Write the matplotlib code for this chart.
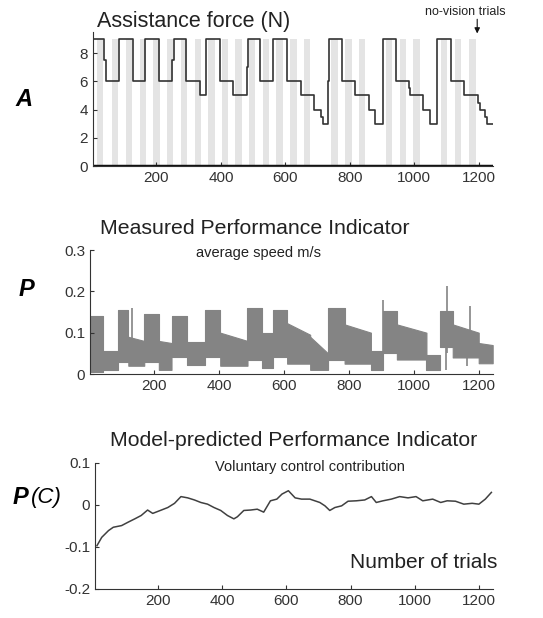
import matplotlib.pyplot as plt
import numpy as np

plt.rcParams['font.family'] = ['Liberation Sans', 'DejaVu Sans']

# panel A: assistance force schedule (trial where level starts, level)
force_start = [1, 38, 44, 83, 126, 165, 209, 248, 253, 291, 334, 354, 396, 437, 480, 485,
               522, 563, 606, 648, 689, 711, 718, 731, 735, 775, 816, 858, 878, 902,
               943, 982, 987, 1027, 1049, 1071, 1113, 1154, 1196, 1204, 1218, 1224, 1243]
force_level = [9, 7.5, 6, 9, 6, 9, 6, 7.5, 9, 6, 5, 9, 6, 5, 7, 9,
               6, 9, 6, 5, 4, 3.5, 3, 6, 9, 6, 5, 4, 3, 9,
               6, 5.5, 5, 4, 3, 9, 6, 5, 4.5, 4, 3.5, 3, 3]

# no-vision blocks (start trial, 20 trials each)
novision_start = [15, 62, 105, 148, 190, 232, 275, 318, 360, 402, 445, 487, 530, 572,
                  615, 657, 742, 785, 827, 912, 955, 997, 1082, 1125, 1170]
novision_len = 20

# panel P: measured speed, envelope of the trace per block
p_start = [3, 42, 88, 121, 170, 215, 254, 302, 358, 404, 488, 533, 567, 610,
           681, 736, 787, 868, 906, 948, 1039, 1080, 1120, 1200]
p_end = [42, 88, 121, 170, 215, 254, 302, 358, 404, 488, 533, 567, 610, 681,
         736, 787, 868, 906, 948, 1039, 1080, 1120, 1200, 1243]
p_hi_a = [0.14, 0.055, 0.155, 0.09, 0.145, 0.08, 0.14, 0.078, 0.155, 0.10, 0.16, 0.10,
          0.155, 0.123, 0.09, 0.16, 0.12, 0.055, 0.152, 0.12, 0.045, 0.152, 0.12, 0.075]
p_hi_b = [0.14, 0.055, 0.155, 0.08, 0.145, 0.075, 0.14, 0.078, 0.155, 0.08, 0.16, 0.10,
          0.155, 0.095, 0.05, 0.16, 0.10, 0.055, 0.152, 0.10, 0.045, 0.152, 0.10, 0.07]
p_lo = [0.006, 0.01, 0.03, 0.02, 0.03, 0.01, 0.04, 0.022, 0.04, 0.02, 0.035, 0.015,
        0.04, 0.025, 0.01, 0.035, 0.025, 0.01, 0.05, 0.035, 0.01, 0.065, 0.04, 0.026]
spike_x = [131, 390, 906, 1102, 1172]
spike_y = [0.16, 0.155, 0.178, 0.214, 0.165]
dip_x = [1098, 1165]
dip_y = [0.01, 0.02]

# panel P(C): voluntary control contribution
c_x = [9, 24, 45, 60, 86, 106, 127, 147, 167, 183, 210, 230, 251, 271, 292, 313, 333,
       354, 374, 395, 416, 426, 436, 447, 467, 488, 509, 529, 550, 570, 586, 606, 627,
       647, 673, 704, 720, 735, 751, 772, 792, 818, 844, 865, 880, 901, 927, 953, 979,
       1004, 1025, 1056, 1081, 1101, 1127, 1153, 1179, 1200, 1220, 1239]
c_y = [-0.097, -0.077, -0.061, -0.053, -0.049, -0.041, -0.033, -0.025, -0.012, -0.020,
       -0.012, -0.006, 0.004, 0.020, 0.017, 0.012, 0.006, 0.002, -0.006, -0.013,
       -0.025, -0.029, -0.033, -0.028, -0.013, -0.012, -0.010, -0.017, 0.010, 0.014,
       0.026, 0.034, 0.017, 0.014, 0.014, 0.006, -0.002, -0.013, -0.006, -0.002,
       0.009, 0.010, 0.012, 0.020, 0.006, 0.010, 0.014, 0.020, 0.017, 0.020,
       0.010, 0.014, 0.006, 0.010, 0.009, 0.002, 0.004, 0.002, 0.014, 0.030]

x_ticks = [200, 400, 600, 800, 1000, 1200]
XLIM = (3, 1244)
TICK_COLOR = '#333333'
TRACE = '#848484'

fig = plt.figure(figsize=(5.43, 6.18), dpi=100)


def style(ax):
    for s in ['top', 'right']:
        ax.spines[s].set_visible(False)
    for s in ['left', 'bottom']:
        ax.spines[s].set_color('#333333')
    ax.tick_params(direction='in', length=3, labelsize=11, colors=TICK_COLOR)
    ax.set_xlim(*XLIM)
    ax.set_xticks(x_ticks)
    ax.set_xticklabels([str(t) for t in x_ticks])


# A
axA = fig.add_axes([93 / 543, 1 - 166 / 618, 400 / 543, 134 / 618])
for s in novision_start:
    axA.fill_between([s, s + novision_len], 0, 9, color='#e4e4e4', lw=0)
axA.step(force_start, force_level, where='post', color='#333333', lw=1.2)
axA.plot(XLIM, [0, 0], color='#111111', lw=2.5, solid_capstyle='butt')
axA.set_ylim(0, 9.5)
axA.set_yticks([0, 2, 4, 6, 8])
axA.set_yticklabels(['0', '2', '4', '6', '8'])
style(axA)
fig.text(97 / 543, 1 - 22 / 618, 'Assistance force (N)', fontsize=15.5, va='center', color='#222222')
fig.text(425 / 543, 1 - 12 / 618, 'no-vision trials', fontsize=9, va='center', color='#222222')
axA.annotate('', xy=(1195, 9.2), xytext=(1195, 10.6), annotation_clip=False,
             arrowprops=dict(arrowstyle='-|>', color='#111111', lw=0.8, mutation_scale=8))
fig.text(24 / 543, 1 - 100 / 618, 'A', fontsize=17, fontweight='bold', fontstyle='italic',
         ha='center', va='center')

# P
axP = fig.add_axes([90 / 543, 1 - 374 / 618, 403 / 543, 124 / 618])
for x0, x1, ha, hb, lo in zip(p_start, p_end, p_hi_a, p_hi_b, p_lo):
    axP.fill_between([x0, x1], [lo, lo], [ha, hb], color=TRACE, lw=0.8)
axP.vlines(spike_x, 0.05, spike_y, color=TRACE, lw=1.2)
axP.vlines(dip_x, dip_y, 0.08, color=TRACE, lw=1.2)
axP.set_ylim(0, 0.3)
axP.set_yticks([0, 0.1, 0.2, 0.3])
axP.set_yticklabels(['0', '0.1', '0.2', '0.3'])
style(axP)
fig.text(255 / 543, 1 - 228 / 618, 'Measured Performance Indicator', fontsize=15.3,
         ha='center', va='center', color='#222222')
fig.text(258 / 543, 1 - 253 / 618, 'average speed m/s', fontsize=10.5,
         ha='center', va='center', color='#222222')
fig.text(26 / 543, 1 - 290 / 618, 'P', fontsize=17, fontweight='bold', fontstyle='italic',
         ha='center', va='center')

# P(C)
axC = fig.add_axes([95 / 543, 1 - 589 / 618, 398 / 543, 126 / 618])
axC.plot(c_x, c_y, color='#404040', lw=1.1)
axC.set_ylim(-0.2, 0.1)
axC.set_yticks([-0.2, -0.1, 0, 0.1])
axC.set_yticklabels(['-0.2', '-0.1', '0', '0.1'])
style(axC)
fig.text(294 / 543, 1 - 440 / 618, 'Model-predicted Performance Indicator', fontsize=15.3,
         ha='center', va='center', color='#222222')
fig.text(310 / 543, 1 - 467 / 618, 'Voluntary control contribution', fontsize=10.5,
         ha='center', va='center', color='#222222')
fig.text(497 / 543, 1 - 562 / 618, 'Number of trials', fontsize=15,
         ha='right', va='center', color='#222222')
fig.text(13 / 543, 1 - 498 / 618, 'P', fontsize=17, fontweight='bold', fontstyle='italic',
         ha='left', va='center')
fig.text(31 / 543, 1 - 497 / 618, '(C)', fontsize=16, fontstyle='italic',
         ha='left', va='center')

fig.savefig('out.png', dpi=100)
